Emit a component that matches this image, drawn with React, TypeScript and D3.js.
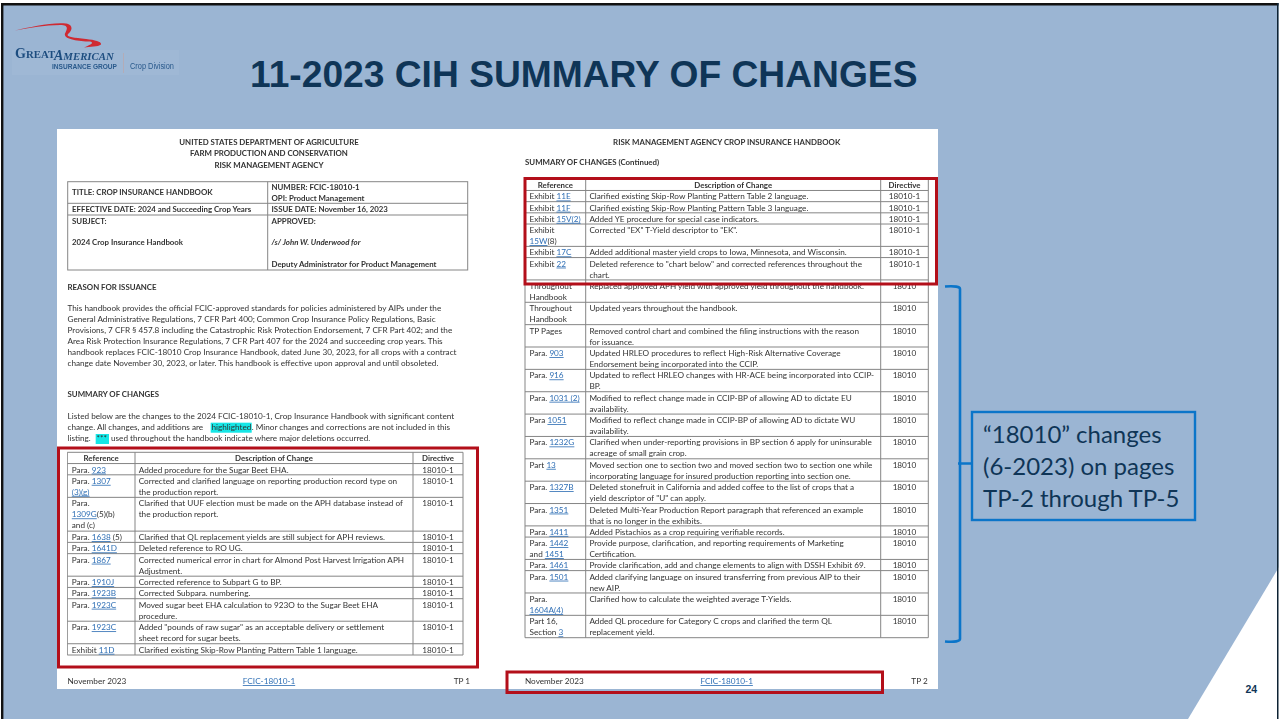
import * as d3 from 'd3';

// left page table
const leftRefs = [
  'Para. [923]', 'Para. [1307]|[(3)(g)]', 'Para.|[1309G](5)(b)|and (c)', 'Para. [1638] (5)', 'Para. [1641D]', 'Para. [1867]',
  'Para. [1910J]', 'Para. [1923B]', 'Para. [1923C]', 'Para. [1923C]', 'Exhibit [11D]'
];
const leftDescs = [
  'Added procedure for the Sugar Beet EHA.',
  'Corrected and clarified language on reporting production record type on|the production report.',
  'Clarified that UUF election must be made on the APH database instead of|the production report.',
  'Clarified that QL replacement yields are still subject for APH reviews.',
  'Deleted reference to RO UG.',
  'Corrected numerical error in chart for Almond Post Harvest Irrigation APH|Adjustment.',
  'Corrected reference to Subpart G to BP.',
  'Corrected Subpara. numbering.',
  'Moved sugar beet EHA calculation to 923O to the Sugar Beet EHA|procedure.',
  'Added "pounds of raw sugar" as an acceptable delivery or settlement|sheet record for sugar beets.',
  'Clarified existing Skip-Row Planting Pattern Table 1 language.'
];

// right page table
const rightRefs = [
  'Exhibit [11E]', 'Exhibit [11F]', 'Exhibit [15V(2)]', 'Exhibit|[15W](8)', 'Exhibit [17C]', 'Exhibit [22]',
  'Throughout|Handbook', 'Throughout|Handbook', 'TP Pages', 'Para. [903]', 'Para. [916]', 'Para. [1031 (2)]', 'Para [1051]',
  'Para. [1232G]', 'Part [13]', 'Para. [1327B]', 'Para. [1351]', 'Para. [1411]', 'Para. [1442]|and [1451]', 'Para. [1461]',
  'Para. [1501]', 'Para.|[1604A(4)]', 'Part 16,|Section [3]'
];
const rightDescs = [
  'Clarified existing Skip-Row Planting Pattern Table 2 language.',
  'Clarified existing Skip-Row Planting Pattern Table 3 language.',
  'Added YE procedure for special case indicators.',
  'Corrected "EX" T-Yield descriptor to "EK".',
  'Added additional master yield crops to Iowa, Minnesota, and Wisconsin.',
  'Deleted reference to "chart below" and corrected references throughout the|chart.',
  'Replaced approved APH yield with approved yield throughout the handbook.',
  'Updated years throughout the handbook.',
  'Removed control chart and combined the filing instructions with the reason|for issuance.',
  'Updated HRLEO procedures to reflect High-Risk Alternative Coverage|Endorsement being incorporated into the CCIP.',
  'Updated to reflect HRLEO changes with HR-ACE being incorporated into CCIP-|BP.',
  'Modified to reflect change made in CCIP-BP of allowing AD to dictate EU|availability.',
  'Modified to reflect change made in CCIP-BP of allowing AD to dictate WU|availability.',
  'Clarified when under-reporting provisions in BP section 6 apply for uninsurable|acreage of small grain crop.',
  'Moved section one to section two and moved section two to section one while|incorporating language for insured production reporting into section one.',
  'Deleted stonefruit in California and added coffee to the list of crops that a|yield descriptor of "U" can apply.',
  'Deleted Multi-Year Production Report paragraph that referenced an example|that is no longer in the exhibits.',
  'Added Pistachios as a crop requiring verifiable records.',
  'Provide purpose, clarification, and reporting requirements of Marketing|Certification.',
  'Provide clarification, add and change elements to align with DSSH Exhibit 69.',
  'Added clarifying language on insured transferring from previous AIP to their|new AIP.',
  'Clarified how to calculate the weighted average T-Yields.',
  'Added QL procedure for Category C crops and clarified the term QL|replacement yield.'
];
const rightDirectives = ['18010-1', '18010-1', '18010-1', '18010-1', '18010-1', '18010-1',
  ...d3.range(17).map(() => '18010')];
const leftDirectives = leftRefs.map(() => '18010-1');

const headers = ['Reference', 'Description of Change', 'Directive'];
const deptLines = ['UNITED STATES DEPARTMENT OF AGRICULTURE', 'FARM PRODUCTION AND CONSERVATION', 'RISK MANAGEMENT AGENCY'];
const reasonLines = [
  'This handbook provides the official FCIC-approved standards for policies administered by AIPs under the',
  'General Administrative Regulations, 7 CFR Part 400; Common Crop Insurance Policy Regulations, Basic',
  'Provisions, 7 CFR § 457.8 including the Catastrophic Risk Protection Endorsement, 7 CFR Part 402; and the',
  'Area Risk Protection Insurance Regulations, 7 CFR Part 407 for the 2024 and succeeding crop years.  This',
  'handbook replaces FCIC-18010 Crop Insurance Handbook, dated June 30, 2023, for all crops with a contract',
  'change date November 30, 2023, or later.  This handbook is effective upon approval and until obsoleted.'
];
const calloutLines = ['“18010” changes', '(6-2023) on pages', 'TP-2 through TP-5'];

const BG = '#9bb5d3';
const NAVY = '#0f3557';
const RED = '#b30f1a';
const BLUE = '#0b75c9';
const INK = '#333333';
const LINK = '#2f6fb5';
const RULE = '#858585';
const DOC_FONT = 'Lato, "Open Sans", sans-serif';
const ARIAL = '"Liberation Sans", Arial, sans-serif';
const SERIF = '"Liberation Serif", serif';
const BODY_SIZE = 8.2;
const BOLD_SIZE = 7.85;

const lineCount = (s: string) => s.split('|').length;

// "Para. [923]" -> plain and link pieces
const pieces = (s: string) =>
  s.split(/(\[[^\]]*\])/).filter(Boolean).map((p) =>
    p.startsWith('[') ? { t: p.slice(1, -1), link: true } : { t: p, link: false }
  );

const Cell = ({ text, x, y, anchor = 'start' }: { text: string; x: number; y: number; anchor?: string }) => (
  <>
    {text.split('|').map((ln, i) => (
      <text key={i} x={x} y={y + i * 11} textAnchor={anchor}>
        {pieces(ln).map((p, j) => (
          <tspan key={j} fill={p.link ? LINK : INK} textDecoration={p.link ? 'underline' : undefined}>{p.t}</tspan>
        ))}
      </text>
    ))}
  </>
);

const Table = ({ refs, descs, dirs, cols, top, bottom }: {
  refs: string[]; descs: string[]; dirs: string[]; cols: number[]; top: number; bottom: number;
}) => {
  const spans = refs.map((r, i) => Math.max(lineCount(r), lineCount(descs[i])));
  const offsets = [0, 1, ...Array.from(d3.cumsum(spans)).map((v) => v + 1)];
  const y = d3.scaleLinear().domain([0, offsets[offsets.length - 1]]).range([top, bottom]);
  const dirX = (cols[2] + cols[3]) / 2;
  return (
    <g fontSize={BODY_SIZE}>
      {offsets.map((o, i) => (
        <line key={i} x1={cols[0]} x2={cols[3]} y1={y(o)} y2={y(o)} stroke={RULE} strokeWidth={1} />
      ))}
      {cols.map((c, i) => (
        <line key={i} x1={c} x2={c} y1={top} y2={bottom} stroke={RULE} strokeWidth={1} />
      ))}
      <g fontWeight={700} fill={INK} textAnchor="middle" fontSize={BOLD_SIZE}>
        <text x={(cols[0] + cols[1]) / 2} y={y(0) + 9}>{headers[0]}</text>
        <text x={(cols[1] + cols[2]) / 2} y={y(0) + 9}>{headers[1]}</text>
        <text x={dirX} y={y(0) + 9}>{headers[2]}</text>
      </g>
      {refs.map((r, i) => {
        const base = y(offsets[i + 1]) + 9;
        return (
          <g key={i}>
            <Cell text={r} x={cols[0] + 4.5} y={base} />
            <Cell text={descs[i]} x={cols[1] + 3.7} y={base} />
            <Cell text={dirs[i]} x={dirX} y={base} anchor="middle" />
          </g>
        );
      })}
    </g>
  );
};

const bracket = d3.path();
bracket.moveTo(945, 286.5);
bracket.quadraticCurveTo(960, 285.5, 960, 289);
bracket.lineTo(960, 639);
bracket.quadraticCurveTo(960, 642.5, 945, 641.5);
bracket.moveTo(958, 463.5);
bracket.lineTo(972, 463.5);

const swoosh =
  'M15 30.5 C30 27 52 22 66 23.5 C74 25 72 31 68 34 C66 37 72 37.5 86 39 C96 40 102 42 101 44.5 C98 47 90 46.5 84 47.5 ' +
  'C92 44.5 94 42.5 90 41.5 C78 41.5 63 39 65 33.5 C68 28 68 25 60 25 C45 25 30 28 15 30.5Z';

export default function App() {
  return (
    <svg width={1279} height={719} style={{ position: 'fixed', left: 0, top: 0, display: 'block' }} fontFamily={DOC_FONT}>
      <defs>
        <filter id="soft" x="0" y="0" width="100%" height="100%">
          <feGaussianBlur stdDeviation="0.33" />
        </filter>
      </defs>
      <rect width={1279} height={719} fill={BG} />
      <polygon points="1279,567 1279,719 1188,719" fill="#fff" />

      {/* logo */}
      <rect x={12} y={50} width={167} height={25} fill="#9fb8d5" />
      <g filter="url(#soft)">
        <path d={swoosh} fill="#cf2a33" />
        <text x={15} y={57.5} fontFamily={SERIF} fontWeight={700} fontSize={10.8} fill="#1f4e80">
          <tspan fontSize={14}>G</tspan>REAT
        </text>
        <text x={54} y={60} fontFamily={SERIF} fontWeight={700} fontStyle="italic" fontSize={10.8} fill="#1f4e80">
          <tspan fontSize={14}>A</tspan>MERICAN
        </text>
        <text x={52} y={69} fontFamily={ARIAL} fontWeight={700} fontSize={7.4} fill="#2a5a8c" textLength={65} lengthAdjust="spacingAndGlyphs">INSURANCE GROUP</text>
        <line x1={123.5} x2={123.5} y1={53} y2={73} stroke="#b8a9b0" strokeWidth={0.8} />
        <text x={130} y={69} fontFamily={ARIAL} fontSize={8.4} fill="#2a5a8c" textLength={44} lengthAdjust="spacingAndGlyphs">Crop Division</text>
      </g>

      <text x={250} y={87} fontFamily={ARIAL} fontWeight={700} fontSize={37.2} fill={NAVY}>
        11-2023 CIH SUMMARY OF CHANGES
      </text>

      {/* scanned pages */}
      <rect x={57} y={129} width={881} height={560} fill="#fff" />
      <g filter="url(#soft)" fill={INK} fontSize={BODY_SIZE}>
        <g fontWeight={700} textAnchor="middle" fontSize={BOLD_SIZE}>
          {deptLines.map((d, i) => <text key={d} x={269} y={145 + i * 11.3}>{d}</text>)}
        </g>
        <g fill="none" stroke={RULE} strokeWidth={1}>
          <rect x={67.7} y={181.7} width={400} height={88.3} />
          <line x1={267.7} x2={267.7} y1={181.7} y2={270} />
          <line x1={67.7} x2={467.7} y1={203.3} y2={203.3} />
          <line x1={67.7} x2={467.7} y1={215} y2={215} />
        </g>
        <g fontWeight={700} fontSize={BOLD_SIZE}>
          <text x={72} y={195}>TITLE:  CROP INSURANCE HANDBOOK</text>
          <text x={271.5} y={189.7}>NUMBER:  FCIC-18010-1</text>
          <text x={271.5} y={201}>OPI:  Product Management</text>
          <text x={72} y={212}>EFFECTIVE DATE:  2024 and Succeeding Crop Years</text>
          <text x={271.5} y={212}>ISSUE DATE:  November 16, 2023</text>
          <text x={72} y={223.7}>SUBJECT:</text>
          <text x={271.5} y={223.7}>APPROVED:</text>
          <text x={72} y={245}>2024 Crop Insurance Handbook</text>
          <text x={271.5} y={245} fontStyle="italic">/s/ John W. Underwood for</text>
          <text x={271.5} y={267}>Deputy Administrator for Product Management</text>
          <text x={67.5} y={289.7}>REASON FOR ISSUANCE</text>
          <text x={67.5} y={397.3}>SUMMARY OF CHANGES</text>
        </g>
        {reasonLines.map((l, i) => <text key={i} x={67.5} y={311.3 + i * 10.95}>{l}</text>)}
        <rect x={210.7} y={422.7} width={41} height={10} fill="#12e6e6" />
        <rect x={95.7} y={434} width={13.3} height={10} fill="#12e6e6" />
        <text x={67.5} y={419.3}>Listed below are the changes to the 2024 FCIC-18010-1, Crop Insurance Handbook with significant content</text>
        <text x={67.5} y={430}>change.  All changes, and additions are</text>
        <text x={211.5} y={430}>highlighted</text>
        <text x={251.7} y={430}>.  Minor changes and corrections are not included in this</text>
        <text x={67.5} y={441}>listing.</text>
        <text x={96.5} y={441}>***</text>
        <text x={111} y={441}>used throughout the handbook indicate where major deletions occurred.</text>

        <Table refs={leftRefs} descs={leftDescs} dirs={leftDirectives} cols={[67.3, 135, 413, 463]} top={452.3} bottom={655} />

        <text x={67.5} y={684}>November 2023</text>
        <text x={269} y={684} textAnchor="middle" fill={LINK} textDecoration="underline">FCIC-18010-1</text>
        <text x={470} y={684} textAnchor="end">TP 1</text>

        <text x={726.7} y={145.3} textAnchor="middle" fontWeight={700} fontSize={BOLD_SIZE}>RISK MANAGEMENT AGENCY CROP INSURANCE HANDBOOK</text>
        <text x={525} y={165.3} fontWeight={700} fontSize={BOLD_SIZE}>SUMMARY OF CHANGES (Continued)</text>

        <Table refs={rightRefs} descs={rightDescs} dirs={rightDirectives} cols={[525, 585.7, 880.7, 928.3]} top={179.3} bottom={637.7} />

        <text x={525} y={684}>November 2023</text>
        <text x={726.7} y={684} textAnchor="middle" fill={LINK} textDecoration="underline">FCIC-18010-1</text>
        <text x={927.7} y={684} textAnchor="end">TP 2</text>
      </g>

      {/* red call-out rectangles */}
      <g fill="none" stroke={RED} strokeWidth={3}>
        <rect x={58.5} y={448} width={419} height={219} />
        <rect x={525} y={178.5} width={411.5} height={105.5} />
        <rect x={507} y={672} width={375.5} height={20.5} />
      </g>

      {/* bracket and note */}
      <path d={bracket.toString()} fill="none" stroke={BLUE} strokeWidth={2.6} />
      <rect x={972} y={412} width={223} height={108} fill="none" stroke={BLUE} strokeWidth={2.4} />
      <g fontFamily={DOC_FONT} fontSize={24} fill={NAVY}>
        {calloutLines.map((l, i) => <text key={l} x={983} y={443 + i * 32}>{l}</text>)}
      </g>

      <text x={1245.5} y={692.5} fontFamily={ARIAL} fontWeight={700} fontSize={10.5} fill={NAVY}>24</text>

      {/* slide edge: heavy top and left, thin right, white sliver outside */}
      <rect x={0} y={0} width={1279} height={3} fill="#fff" />
      <rect x={0} y={0} width={1} height={719} fill="#fff" />
      <rect x={1278.5} y={0} width={0.5} height={719} fill="#fff" />
      <rect x={1} y={3} width={1277.5} height={2.5} fill="#111" />
      <rect x={1} y={3} width={2.4} height={716} fill="#111" />
      <rect x={1277} y={3} width={1.5} height={716} fill="#0d2233" />
    </svg>
  );
}
